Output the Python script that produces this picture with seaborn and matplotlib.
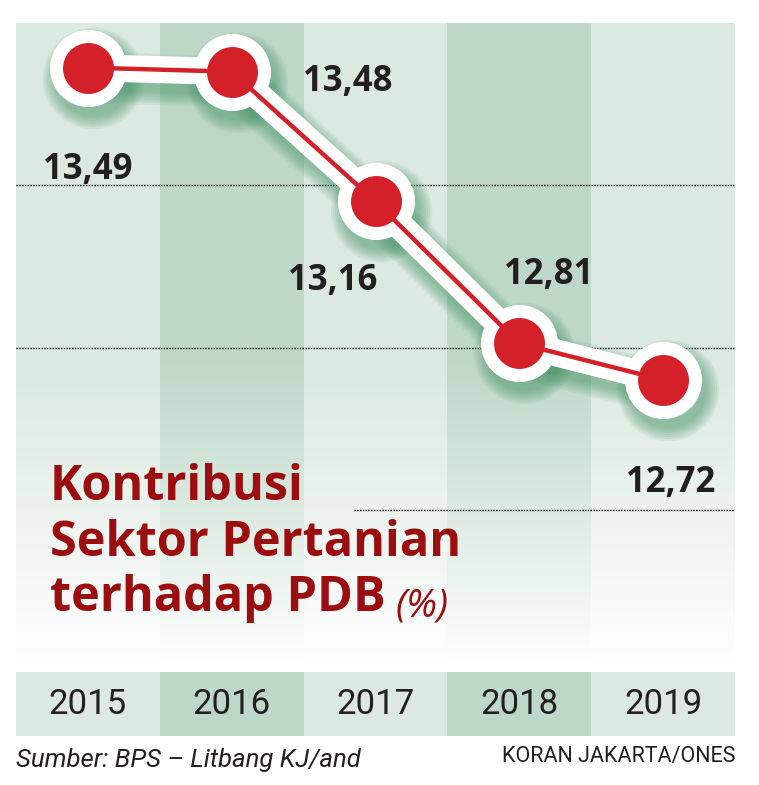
import numpy as np
import pandas as pd
import seaborn as sns
import matplotlib.pyplot as plt
import matplotlib.transforms as mtransforms

years = [2015, 2016, 2017, 2018, 2019]
values = [13.49, 13.48, 13.16, 12.81, 12.72]
labels = ['13,49', '13,48', '13,16', '12,81', '12,72']
# label offsets from each point, in pixels
label_dx = [0, 116, -43, 29, 8]
label_dy = [-102, -10, -80, 68, -103]
grid_levels = [13.2, 12.8, 12.4]

df = pd.DataFrame({'year': years, 'value': values})

sns.set_theme(style='white')
plt.rcParams['font.family'] = ['Open Sans', 'DejaVu Sans']

RED = '#d42029'
DARKRED = '#9b0d0f'
LIGHT = '#dbe9e0'
DARK = '#bed8c8'
INK = '#231f20'

fig = plt.figure(figsize=(7.59, 7.85), dpi=100)
ax = fig.add_axes([16 / 759, 1 - 672 / 785, 719 / 759, 649 / 785])

# column stripes
for i, yr in enumerate(years):
    ax.axvspan(yr - 0.5, yr + 0.5, color=DARK if i % 2 else LIGHT, lw=0, zorder=0)

# fade to white at the bottom
n = 256
alpha = np.clip((12.78 - np.linspace(13.6, 12.0, n)) / 0.76, 0, 1) ** 1.1
grad = np.ones((n, 2, 4))
grad[:, :, 3] = alpha[:, None]
ax.imshow(grad, extent=(2014.5, 2019.5, 12.0, 13.6), aspect='auto', zorder=1,
          interpolation='bilinear')

# dotted guides
for lv in grid_levels:
    xmin = 0.0 if lv > 12.5 else 0.47
    ax.axhline(lv, xmin=xmin, xmax=1, color='black', lw=1.0, ls=(0, (1, 1)), zorder=2)

# soft green shadow under the line
off = mtransforms.offset_copy(ax.transData, fig=fig, x=5, y=-10, units='dots')
for k in range(7):
    ax.plot(df['year'], df['value'], color='#3f8f60', lw=19 + k * 3, alpha=0.09,
            solid_capstyle='round', transform=off, zorder=3)
    ax.scatter(df['year'], df['value'], s=(55 + k * 3) ** 2, color='#3f8f60',
               alpha=0.09, lw=0, transform=off, zorder=3)

sns.lineplot(data=df, x='year', y='value', color='white', lw=19.5, ax=ax, zorder=4)
sns.scatterplot(data=df, x='year', y='value', s=55.5 ** 2, color='white', lw=0,
                ax=ax, zorder=5, legend=False)
sns.lineplot(data=df, x='year', y='value', color=RED, lw=3.2, ax=ax, zorder=6)
sns.scatterplot(data=df, x='year', y='value', s=36.7 ** 2, color=RED, lw=0,
                ax=ax, zorder=7, legend=False)
ax.set_xlim(2014.5, 2019.5)
ax.set_ylim(12.0, 13.6)
ax.axis('off')

for yr, v, lab, dx, dy in zip(years, values, labels, label_dx, label_dy):
    ax.annotate(lab, (yr, v), xytext=(dx, dy), textcoords='offset pixels',
                ha='center', va='center', fontsize=25, fontweight='bold',
                color=INK, zorder=8)

# title
title_kw = dict(fontsize=35, fontweight='bold', color=DARKRED, ha='left', va='baseline')
fig.text(50 / 759, 1 - 500 / 785, 'Kontribusi', **title_kw)
fig.text(50 / 759, 1 - 556 / 785, 'Sektor Pertanian', **title_kw)
t3 = fig.text(50 / 759, 1 - 611 / 785, 'terhadap PDB', **title_kw)
ax.annotate('(%)', xy=(1, 0), xycoords=t3, xytext=(10, -2), textcoords='offset pixels',
            fontsize=28, fontstyle='italic', color=DARKRED, ha='left', va='bottom',
            annotation_clip=False)

# year band
bx = fig.add_axes([16 / 759, 1 - 736 / 785, 719 / 759, 64 / 785])
bx.set_xlim(2014.5, 2019.5)
bx.set_ylim(0, 1)
bx.axis('off')
for i, yr in enumerate(years):
    bx.axvspan(yr - 0.5, yr + 0.5, color=DARK if i % 2 else LIGHT, lw=0)
    bx.text(yr, 0.5, str(yr), ha='center', va='center', fontsize=25,
            family=['Liberation Sans Narrow', 'Roboto'], color=INK)

fig.text(16 / 759, 1 - 767 / 785, 'Sumber: BPS \u2013 Litbang KJ/and', fontsize=18.5,
         fontstyle='italic', family=['Liberation Sans Narrow', 'Roboto'],
         color=INK, ha='left', va='baseline')
fig.text(735 / 759, 1 - 762 / 785, 'KORAN JAKARTA/ONES', fontsize=15.5,
         family=['Liberation Sans Narrow', 'Roboto'], color=INK,
         ha='right', va='baseline')

fig.savefig('out.png', dpi=100, facecolor='white')
